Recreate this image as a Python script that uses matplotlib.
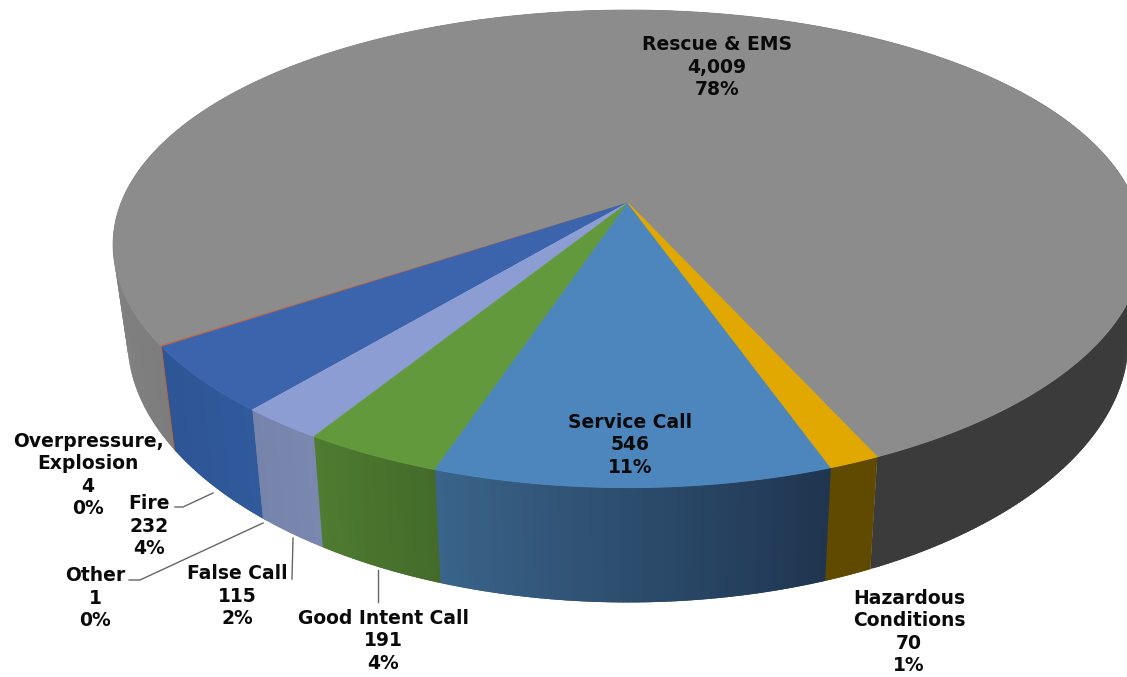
import numpy as np
import matplotlib
matplotlib.use("Agg")
import matplotlib.pyplot as plt
from matplotlib.colors import to_rgb

# sectores en el orden en que recorren el borde del pastel
nombres = ["Rescue & EMS", "Overpressure,\nExplosion", "Fire", "Other",
           "False Call", "Good Intent Call", "Service Call", "Hazardous\nConditions"]
valores = [4009, 4, 232, 1, 115, 191, 546, 70]

colores_top = ["#8c8c8c", "#c0693f", "#3b64ad", "#8b9dd3",
               "#8b9dd3", "#62993c", "#4c86bd", "#e0a800"]
# colores del costado, de inicio a fin del arco
colores_lado = [["#3b3b3b", "#3b3b3b", "#8f8f8f", "#7d7d7d"],
                ["#b5653c", "#b5653c"],
                ["#2e5595", "#305a9c"],
                ["#7683ab", "#7683ab"],
                ["#7683ab", "#7a87ae"],
                ["#4f7c31", "#446b2a"],
                ["#3a648a", "#1f3550"],
                ["#5f4a00", "#5f4a00"]]

pos_etiquetas = [(717, 67), (88, 475), (149, 526), (95, 598),
                 (237, 596), (383, 641), (630, 445), (909, 632)]

# parámetros de la perspectiva, en pixeles
cx, cy = 628, 203
R, Ry, k, k_x = 507, 230, 0.192, 0.175
inicio = 24.4  # ángulo del primer sector, desde el frente
escala_x, escala_y, cy_base = 0.972, 1.08, 295


def tapa(a):
    a = np.radians(a)
    return (cx + R * np.sin(a) / (1 - k_x * np.cos(a)),
            cy + Ry * np.cos(a) / (1 - k * np.cos(a)))


def base(a):
    x, y = tapa(a)
    return cx + escala_x * (x - cx), cy_base + escala_y * (y - cy)


def mezcla(cols, f):
    rgb = np.array([to_rgb(c) for c in cols])
    pos = np.linspace(0, 1, len(cols))
    return [np.interp(f, pos, rgb[:, i]) for i in range(3)]


fig = plt.figure(figsize=(11.27, 6.77), dpi=100)
ax = fig.add_axes([0, 0, 1, 1])
ax.set_xlim(0, 1127)
ax.set_ylim(677, 0)
ax.axis("off")

total = sum(valores)
angulos = inicio + np.concatenate(([0], np.cumsum(valores))) * 360 / total

# costados; cada trozo pisa un poco al siguiente para que no queden rayas
for i in range(len(valores)):
    a1, a2 = angulos[i], angulos[i + 1]
    n = max(2, int((a2 - a1) * 2))
    pasos = np.linspace(a1, a2, n + 1)
    tope = a2 if i == len(valores) - 1 else a2 + 0.6
    for j in range(n):
        aa = np.linspace(pasos[j], min(pasos[j + 1] + 0.6, tope), 4)
        xt, yt = tapa(aa)
        xb, yb = base(aa[::-1])
        color = mezcla(colores_lado[i], (j + 0.5) / n)
        ax.fill(np.r_[xt, xb], np.r_[yt, yb], color=color, lw=0, zorder=2)

# tapa
for i in range(len(valores)):
    aa = np.linspace(angulos[i], angulos[i + 1], max(3, int(angulos[i + 1] - angulos[i]) * 2))
    x, y = tapa(aa)
    ax.fill(np.r_[cx, x], np.r_[cy, y], color=colores_top[i], lw=0.6, zorder=3)

# líneas guía
guias = [([175, 183, 213], [507, 507, 493]),
         ([129, 140, 263], [580, 580, 523]),
         ([292, 293], [579, 538]),
         ([378, 378], [602, 570])]
for gx, gy in guias:
    ax.plot(gx, gy, color="#666666", lw=1, zorder=4)

# etiquetas
for nombre, valor, (x, y) in zip(nombres, valores, pos_etiquetas):
    pct = round(100 * valor / total)
    ax.text(x, y, f"{nombre}\n{valor:,}\n{pct}%", ha="center", va="center",
            fontsize=13.5, fontweight="bold", family="DejaVu Sans",
            color="#0a0a0a", linespacing=1.24, zorder=5)

fig.savefig("out.png", dpi=100)
